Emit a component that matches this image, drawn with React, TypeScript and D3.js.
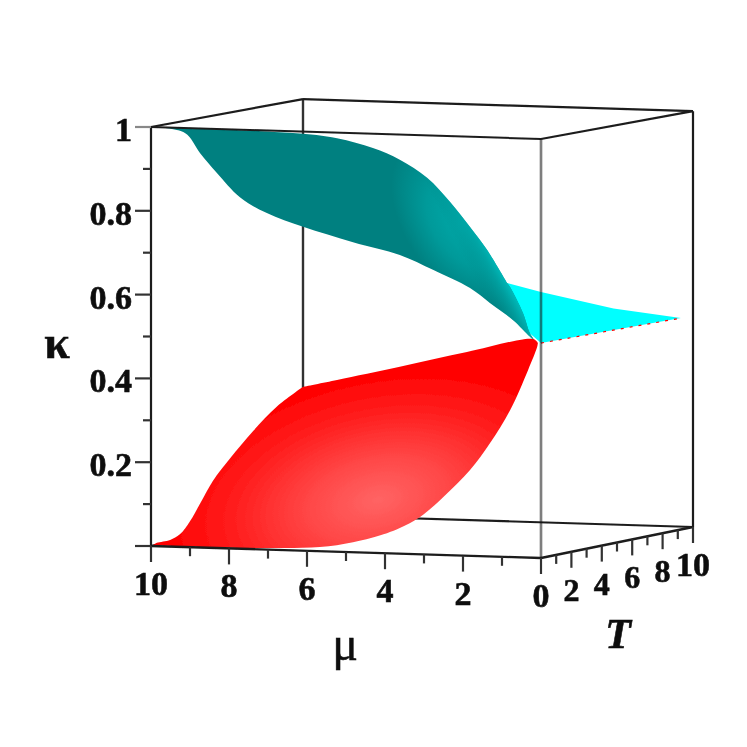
import React from "react";
import * as d3 from "d3";

const W = 747;
const muTicks = [10, 8, 6, 4, 2, 0];
const muMinor = [9, 7, 5, 3, 1];
const tTicks = [0, 2, 4, 6, 8, 10];
const tMinor = [1, 3, 5, 7, 9];
const kappaTicks = [0.2, 0.4, 0.6, 0.8, 1];
const kappaMinor = [0.1, 0.3, 0.5, 0.7, 0.9];

// [mu, kappa] silhouettes, on the T = 0 plane
const tealUpper = [[9.9, 1], [9.26, 1], [6.36, 0.996], [5.23, 0.987], [4.31, 0.966], [3.62, 0.94], [2.92, 0.899], [2.33, 0.843], [1.82, 0.785], [1.38, 0.731], [0.87, 0.654]];
const tealInner = [[0.87, 0.654], [0.79, 0.644], [0.46, 0.583], [0.28, 0.535], [0.13, 0.515]];
const tealLower = [[0.13, 0.515], [0.28, 0.527], [0.72, 0.566], [1.31, 0.605], [1.82, 0.639], [2.77, 0.68], [3.62, 0.713], [4.82, 0.74], [6.1, 0.773], [7.03, 0.803], [7.72, 0.839], [8.31, 0.895], [8.74, 0.941], [9.13, 0.988], [9.9, 1]];
const redUpperLeft = [[9.95, 0.002], [9.85, 0.008], [9.51, 0.016], [9.26, 0.03], [9.0, 0.062], [8.74, 0.105], [8.41, 0.16], [7.97, 0.215], [7.38, 0.282], [6.77, 0.342], [6.1, 0.391]];
const redUpperRight = [[6.1, 0.391], [5.23, 0.41], [3.62, 0.446], [1.9, 0.486], [0.2, 0.522], [0.08, 0.513]];
const redRight = [[0.08, 0.513], [0.1, 0.503], [0.33, 0.448], [0.79, 0.351], [1.31, 0.27], [1.82, 0.205], [2.51, 0.138], [3.1, 0.089], [3.62, 0.061], [3.95, 0.048], [4.82, 0.024], [5.67, 0.01], [6.95, 0.004], [8.67, 0.001], [9.95, 0.002]];
// [T, kappa] at mu = 0
const cyanEdge = [[0, 0.635], [4.77, 0.562], [9.2, 0.508], [0, 0.513]];
const cyanStart = [0.87, 0.654];
const cyanHidden = [0.6, 0.56];

const xMu = d3.scaleLinear().domain([10, 0]).range([151, 541]);
const yMu = d3.scaleLinear().domain([10, 0]).range([546, 558]);
const xT = d3.scaleLinear().domain([0, 10]).range([0, 152]);
const yT = d3.scaleLinear().domain([0, 10]).range([0, -31]);
const zK = d3.scaleLinear().domain([0, 1]).range([0, -419]);
const depth = d3.scaleLinear().domain([0, 10]).range([1, 0.9925]);

const P = (mu: number, T: number, k: number): [number, number] => [xMu(mu) + xT(T), yMu(mu) + yT(T) + zK(k) * depth(T)];
const seg = (pts: number[][]) =>
  d3.line<number[]>().x((d) => P(d[0], 0, d[1])[0]).y((d) => P(d[0], 0, d[1])[1]).curve(d3.curveCatmullRom.alpha(0.5))(pts) as string;
const join = (...segs: string[]) => segs.map((s, i) => (i ? "L" + s.slice(1) : s)).join("") + "Z";
const poly = (pts: [number, number][]) => d3.line()(pts) as string;

const edge = (a: [number, number, number], b: [number, number, number]) => {
  const [x1, y1] = P(...a);
  const [x2, y2] = P(...b);
  return { x1, y1, x2, y2 };
};

const serif = "'Liberation Serif', 'Times New Roman', serif";
const line = { stroke: "#1c1c1c", strokeWidth: 2.2, fill: "none" };
const bold = { fill: "#0c0c0c", stroke: "#0c0c0c", strokeWidth: 0.6 };

export default function App() {
  const teal = join(seg(tealUpper), seg(tealInner), seg(tealLower));
  const red = join(seg(redUpperLeft), seg(redUpperRight), seg(redRight));
  const cyan =
    poly([
      P(cyanStart[0], 0, cyanStart[1]),
      ...cyanEdge.map((d) => P(0, d[0], d[1])),
      P(cyanHidden[0], 0, cyanHidden[1]),
    ]) + "Z";
  const tipA = P(0, cyanEdge[3][0], cyanEdge[3][1]);
  const tipB = P(0, cyanEdge[2][0], cyanEdge[2][1]);
  return (
    <svg width={W} height={W} style={{ position: "absolute", left: 0, top: 0, background: "#fff" }} fontFamily={serif} fontWeight="bold">
      <defs>
        <filter id="soft" x="0" y="0" width="100%" height="100%" filterUnits="userSpaceOnUse">
          <feGaussianBlur stdDeviation="0.5" />
        </filter>
        <radialGradient id="redG" gradientUnits="userSpaceOnUse" cx={0} cy={0} r={1} gradientTransform="translate(378,500) rotate(-12) scale(215,125)">
          <stop offset="0" stopColor="#ff6464" />
          <stop offset="0.3" stopColor="#ff4a4a" />
          <stop offset="0.7" stopColor="#ff1c1c" />
          <stop offset="1" stopColor="#ff0000" />
        </radialGradient>
        <radialGradient id="tealG" gradientUnits="userSpaceOnUse" cx={0} cy={0} r={1} gradientTransform="translate(462,225) rotate(55) scale(95,55)">
          <stop offset="0" stopColor="#00a8a8" />
          <stop offset="0.5" stopColor="#009a9a" />
          <stop offset="1" stopColor="#008080" />
        </radialGradient>
        <linearGradient id="tealTip" gradientUnits="userSpaceOnUse" x1={497} y1={322} x2={528} y2={306}>
          <stop offset="0" stopColor="#008a8a" stopOpacity="0" />
          <stop offset="0.55" stopColor="#00a8a8" stopOpacity="0.7" />
          <stop offset="1" stopColor="#00d8d8" stopOpacity="1" />
        </linearGradient>
      </defs>

      <g filter="url(#soft)">
        {/* hidden box edges */}
        <line {...edge([10, 10, 0], [10, 10, 1])} {...line} stroke="#333" strokeWidth={2.4} />
        <line {...edge([10, 10, 0], [0, 10, 0])} {...line} />
        <line {...edge([10, 0, 0], [10, 10, 0])} {...line} />
        <line {...edge([10, 10, 1], [0, 10, 1])} {...line} />
        <line {...edge([10, 0, 1], [10, 10, 1])} {...line} />
        <line {...edge([0, 0, 1], [0, 10, 1])} {...line} />
        <line {...edge([0, 10, 1], [0, 10, 0])} {...line} />

        {/* surfaces */}
        <path d={cyan} fill="#00ffff" />
        <path d={teal} fill="url(#tealG)" />
        <path d={teal} fill="url(#tealTip)" />
        <path d={red} fill="url(#redG)" />
        <line x1={tipA[0]} y1={tipA[1]} x2={tipB[0]} y2={tipB[1]} stroke="#ff0000" strokeWidth={1.2} strokeDasharray="3 6" />

        {/* front box edges */}
        <line {...edge([10, 0, 1], [0, 0, 1])} {...line} strokeWidth={2} />
        <line {...edge([0, 0, 0], [0, 0, 1])} stroke="#111" strokeOpacity={0.55} strokeWidth={2.6} />
        <line {...edge([10, 0, 0], [10, 0, 1])} {...line} />
        <line {...edge([10, 0, 0], [0, 0, 0])} {...line} strokeWidth={2.4} />
        <line {...edge([0, 0, 0], [0, 10, 0])} {...line} strokeWidth={2.4} />

        {/* kappa axis */}
        {[0, ...kappaTicks].map((k) => {
          const [x, y] = P(10, 0, k);
          return <line key={k} x1={x - 16} x2={x} y1={y} y2={y} stroke={k === 1 ? "#888" : "#333"} strokeWidth={2.2} />;
        })}
        {kappaMinor.map((k) => {
          const [x, y] = P(10, 0, k);
          return <line key={k} x1={x - 8} x2={x} y1={y} y2={y} stroke="#333" strokeWidth={2.2} />;
        })}
        {kappaTicks.map((k) => {
          const [x, y] = P(10, 0, k);
          return (
            <text key={k} x={x - 19} y={y + 14} textAnchor="end" fontSize={34} {...bold}>
              {k === 1 ? "1" : String(k)}
            </text>
          );
        })}

        {/* mu axis */}
        {muTicks.map((m) => {
          const [x, y] = P(m, 0, 0);
          return (
            <g key={m}>
              <line x1={x} x2={x} y1={y} y2={y + 16} stroke="#333" strokeWidth={2.2} />
              <text x={x} y={y + 49} textAnchor="middle" fontSize={34} {...bold}>{m}</text>
            </g>
          );
        })}
        {muMinor.map((m) => {
          const [x, y] = P(m, 0, 0);
          return <line key={m} x1={x} x2={x} y1={y} y2={y + 9} stroke="#333" strokeWidth={2.2} />;
        })}

        {/* T axis */}
        {tTicks.slice(1).map((t) => {
          const [x, y] = P(0, t, 0);
          return (
            <g key={t}>
              <line x1={x} x2={x} y1={y} y2={y + 16} stroke="#333" strokeWidth={2.2} />
              <text x={x} y={y + 49} textAnchor="middle" fontSize={t === 10 ? 34 : 32} {...bold}>{t}</text>
            </g>
          );
        })}
        {tMinor.map((t) => {
          const [x, y] = P(0, t, 0);
          return <line key={t} x1={x} x2={x} y1={y} y2={y + 9} stroke="#333" strokeWidth={2.2} />;
        })}

        <text x={57} y={358} textAnchor="middle" fontSize={46} {...bold}>κ</text>
        <text x={345} y={660} textAnchor="middle" fontSize={48} fontWeight="normal" fill="#0c0c0c" stroke="#0c0c0c" strokeWidth={0.5}>μ</text>
        <text x={618} y={648} textAnchor="middle" fontSize={42} fontStyle="italic" {...bold}>T</text>
      </g>
    </svg>
  );
}
